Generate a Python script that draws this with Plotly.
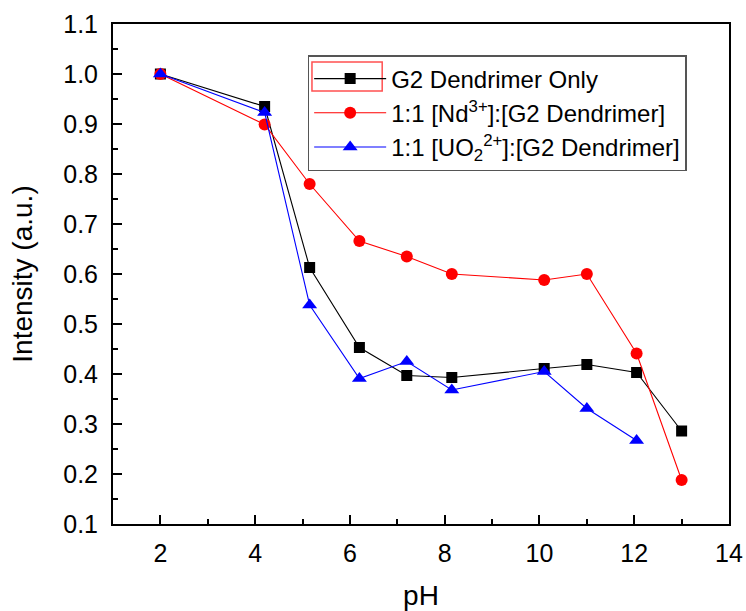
import plotly.graph_objects as go

# pH values at which the emission intensity was recorded
ph = [2.0, 4.2, 5.15, 6.2, 7.2, 8.15, 10.1, 11.0, 12.05, 13.0]
ph_uo2 = [2.0, 4.2, 5.15, 6.2, 7.2, 8.15, 10.1, 11.0, 12.05]

# normalised intensities
g2_only = [1.0, 0.935, 0.613, 0.453, 0.397, 0.393, 0.411, 0.419, 0.403, 0.286]
nd_g2 = [1.0, 0.899, 0.78, 0.666, 0.635, 0.600, 0.588, 0.600, 0.441, 0.188]
uo2_g2 = [1.0, 0.923, 0.538, 0.391, 0.425, 0.368, 0.405, 0.331, 0.267]

names = [
    "G2 Dendrimer Only",
    "1:1 [Nd<sup>3+</sup>]:[G2 Dendrimer]",
    "1:1 [UO<sub>2</sub><sup>2+</sup>]:[G2 Dendrimer]",
]

FONT = "Arial, Liberation Sans, sans-serif"

fig = go.Figure()
fig.add_trace(go.Scatter(
    x=ph, y=g2_only, name=names[0], mode="lines+markers", legendgroup="a",
    line=dict(color="black", width=1.1),
    marker=dict(symbol="square", size=11, color="black"),
))
fig.add_trace(go.Scatter(
    x=ph, y=nd_g2, name=names[1], mode="lines+markers", legendgroup="b",
    line=dict(color="red", width=1.1),
    marker=dict(symbol="circle", size=12, color="red"),
))
fig.add_trace(go.Scatter(
    x=ph_uo2, y=uo2_g2, name=names[2], mode="lines+markers", legendgroup="c",
    line=dict(color="blue", width=1.1),
    marker=dict(symbol="triangle-up", size=13, color="blue"),
))

axis_common = dict(
    showline=True, linecolor="black", linewidth=2, mirror=True,
    ticks="inside", ticklen=9, tickwidth=2, tickcolor="black",
    showgrid=False, zeroline=False, automargin=False,
    tickfont=dict(family=FONT, size=25, color="black"),
)

fig.update_xaxes(
    range=[1, 14], tick0=2, dtick=2,
    minor=dict(ticks="inside", ticklen=5, tickwidth=2, dtick=1, tick0=1, tickcolor="black"),
    title=dict(text="pH", font=dict(family=FONT, size=28, color="black"), standoff=20),
    ticklabelstandoff=6,
    **axis_common,
)
fig.update_yaxes(
    range=[0.1, 1.1], tick0=0.1, dtick=0.1, tickformat=".1f",
    minor=dict(ticks="inside", ticklen=5, tickwidth=2, dtick=0.05, tick0=0.1, tickcolor="black"),
    title=dict(text="Intensity (a.u.)", font=dict(family=FONT, size=28, color="black"), standoff=22),
    ticklabelstandoff=8,
    **axis_common,
)

# red frame around the first legend sample
fig.add_shape(
    type="rect", xref="paper", yref="paper",
    x0=0.323, x1=0.437, y0=0.866, y1=0.924,
    line=dict(color="#ff5050", width=1.5), fillcolor="rgba(0,0,0,0)",
)

fig.update_layout(
    width=746, height=611,
    margin=dict(l=113, r=17, t=24, b=87),
    paper_bgcolor="white", plot_bgcolor="white",
    showlegend=True,
    legend=dict(
        x=0.316, y=0.938, xanchor="left", yanchor="top",
        bgcolor="rgba(255,255,255,0)", bordercolor="#555555", borderwidth=1.5,
        font=dict(family=FONT, size=24, color="black"),
        itemwidth=72, tracegroupgap=0,
    ),
)

fig.write_html("out.html")
